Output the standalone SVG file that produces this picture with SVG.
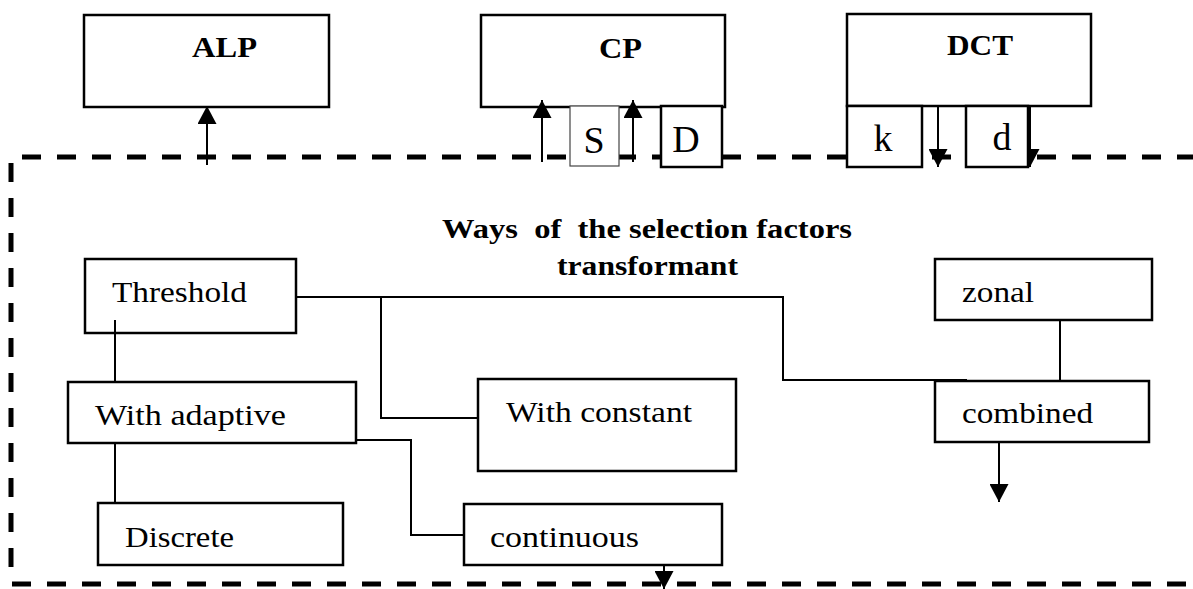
<svg xmlns="http://www.w3.org/2000/svg" width="1193" height="589" viewBox="0 0 1193 589">
<style>
.bx{fill:none;stroke:#000;stroke-width:2.5}
.sb{fill:#fff;stroke:#000;stroke-width:2.5}
.thin{fill:#fff;stroke:#444;stroke-width:1.2}
.dash{fill:none;stroke:#000;stroke-width:5;stroke-dasharray:19 16}
.cn{fill:none;stroke:#000;stroke-width:2}
.ar{marker-end:url(#ah)}
.hd{font-family:"Liberation Serif","Times New Roman",serif;font-weight:bold;font-size:30px;fill:#000}
.tt{font-family:"Liberation Serif","Times New Roman",serif;font-weight:bold;font-size:28px;fill:#000;white-space:pre}
.lb{font-family:"Liberation Serif","Times New Roman",serif;font-size:30px;fill:#000}
.big{font-family:"Liberation Serif","Times New Roman",serif;font-size:38px;fill:#000;text-anchor:middle}
</style>
<defs>
<marker id="ah" viewBox="0 0 18 19" refX="18" refY="9.5" markerWidth="18" markerHeight="19" markerUnits="userSpaceOnUse" orient="auto">
<path d="M0,0 L18,9.5 L0,19 z" fill="#000"/>
</marker>
</defs>
<rect width="1193" height="589" fill="#fff"/>
<g id="frame">
<line class="dash" x1="22" y1="157" x2="1193" y2="157"/>
<line class="dash" x1="11" y1="163" x2="11" y2="578"/>
<line class="dash" x1="12" y1="584" x2="1193" y2="584"/>
</g>
<g id="connectors">
<line class="cn ar" x1="207" y1="165" x2="207" y2="106"/>
<line class="cn ar" x1="542" y1="162" x2="542" y2="100"/>
<line class="cn ar" x1="633" y1="162" x2="633" y2="100"/>
<line class="cn ar" x1="938" y1="106" x2="938" y2="167"/>
<line class="cn ar" x1="1030" y1="106" x2="1030" y2="167"/>
<polyline class="cn" points="296,297 783,297 783,380 967,380"/>
<polyline class="cn" points="381,297 381,418 478,418"/>
<line class="cn" x1="115" y1="320" x2="115" y2="382"/>
<line class="cn" x1="115" y1="442" x2="115" y2="503"/>
<polyline class="cn" points="356,440 411,440 411,535 464,535"/>
<line class="cn ar" x1="664" y1="565" x2="664" y2="589"/>
<line class="cn" x1="1060" y1="320" x2="1060" y2="381"/>
<line class="cn ar" x1="999" y1="442" x2="999" y2="502"/>
</g>
<g id="ALP"><rect class="bx" x="84" y="15" width="245" height="92"/><text class="hd" x="192" y="57" textLength="65" lengthAdjust="spacingAndGlyphs">ALP</text></g>
<g id="CP"><rect class="bx" x="481" y="15" width="244" height="92"/><text class="hd" x="599" y="58" textLength="43" lengthAdjust="spacingAndGlyphs">CP</text></g>
<g id="DCT"><rect class="bx" x="847" y="14" width="244" height="92"/><text class="hd" x="947" y="55" textLength="66" lengthAdjust="spacingAndGlyphs">DCT</text></g>
<g id="S"><rect class="thin" x="570" y="106" width="49" height="60"/><text class="big" x="594" y="153">S</text></g>
<g id="D"><rect class="sb" x="661" y="106" width="61" height="61"/><text class="big" x="686" y="152">D</text></g>
<g id="k"><rect class="sb" x="847" y="106" width="75" height="61"/><text class="big" x="883" y="151">k</text></g>
<g id="d"><rect class="sb" x="966" y="106" width="62" height="61"/><text class="big" x="1002" y="150">d</text></g>
<g id="title">
<text class="tt" x="442" y="238" textLength="410" lengthAdjust="spacingAndGlyphs">Ways  of  the selection factors</text>
<text class="tt" x="557" y="275" textLength="181" lengthAdjust="spacingAndGlyphs">transformant</text>
</g>
<g id="threshold"><rect class="bx" x="85" y="259" width="211" height="74"/><text class="lb" x="112" y="302" textLength="135" lengthAdjust="spacingAndGlyphs">Threshold</text></g>
<g id="adaptive"><rect class="bx" x="68" y="382" width="288" height="61"/><text class="lb" x="95" y="425" textLength="191" lengthAdjust="spacingAndGlyphs">With adaptive</text></g>
<g id="discrete"><rect class="bx" x="98" y="503" width="245" height="62"/><text class="lb" x="125" y="547" textLength="109" lengthAdjust="spacingAndGlyphs">Discrete</text></g>
<g id="constant"><rect class="bx" x="478" y="379" width="258" height="92"/><text class="lb" x="506" y="422" textLength="186" lengthAdjust="spacingAndGlyphs">With constant</text></g>
<g id="continuous"><rect class="bx" x="464" y="504" width="258" height="61"/><text class="lb" x="490" y="547" textLength="149" lengthAdjust="spacingAndGlyphs">continuous</text></g>
<g id="zonal"><rect class="bx" x="935" y="259" width="217" height="61"/><text class="lb" x="962" y="302" textLength="72" lengthAdjust="spacingAndGlyphs">zonal</text></g>
<g id="combined"><rect class="bx" x="935" y="381" width="214" height="61"/><text class="lb" x="962" y="423" textLength="131" lengthAdjust="spacingAndGlyphs">combined</text></g>
</svg>
